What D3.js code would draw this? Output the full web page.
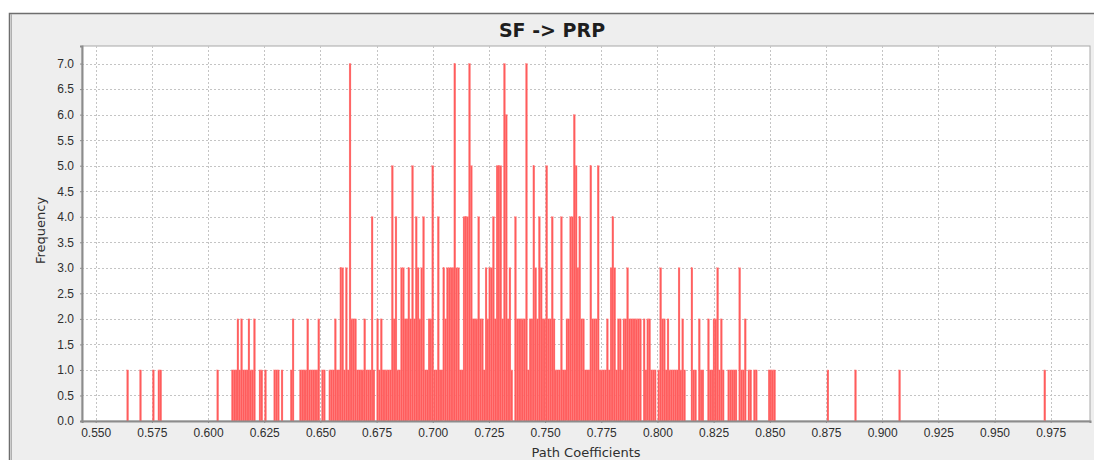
<!DOCTYPE html>
<html>
<head>
<meta charset="utf-8">
<script src="https://cdn.jsdelivr.net/npm/d3@7"></script>
<style>
  body { margin: 0; background: #ffffff; }
  svg { display: block; font-family: "DejaVu Sans", sans-serif; }
  .tick-label { font-size: 12px; fill: #2e2e2e; }
  .axis-title { font-size: 13px; fill: #2e2e2e; }
  .chart-title { font-size: 19px; font-weight: bold; fill: #1e1e1e; }
</style>
</head>
<body>
<div id="chart"></div>
<script>
// SF -> PRP bootstrap histogram (500 bins)
const title = "SF -> PRP";
const xTitle = "Path Coefficients";
const yTitle = "Frequency";

const histMin = 0.5638;
const histMax = 0.9728;

const counts = [
  1,0,0,0,0,0,0,1,0,0,0,0,0,0,1,0,0,1,1,0,0,0,0,0,0,
  0,0,0,0,0,0,0,0,0,0,0,0,0,0,0,0,0,0,0,0,0,0,0,0,1,
  0,0,0,0,0,0,0,1,1,1,2,1,2,1,1,1,2,1,1,2,0,0,1,1,0,
  1,0,0,0,0,1,1,1,0,1,0,0,0,0,1,2,0,0,0,1,1,1,1,2,1,
  1,1,1,1,2,0,1,1,0,0,1,1,1,2,1,1,3,3,1,3,1,7,2,2,2,
  1,1,1,1,2,1,1,1,4,1,0,2,1,2,1,1,1,1,1,5,2,4,1,1,3,
  3,2,2,3,2,5,2,4,3,2,3,4,1,1,2,2,5,1,1,4,1,1,3,2,3,
  3,3,3,7,3,3,1,1,4,4,4,7,5,2,2,2,4,2,2,1,3,2,3,3,4,
  2,5,5,5,2,7,6,2,3,1,0,4,2,2,2,2,2,7,1,2,2,5,3,2,4,
  3,2,2,5,2,2,4,2,1,1,1,4,1,1,2,2,4,4,6,5,3,4,2,2,1,
  1,1,5,2,2,2,5,1,1,1,1,2,1,3,4,3,1,2,2,1,2,2,3,2,2,
  2,2,2,2,2,0,2,1,2,2,1,1,1,0,1,3,2,2,1,2,1,1,1,1,1,
  3,1,2,1,0,0,0,3,1,1,0,2,1,1,0,0,2,1,1,2,2,3,1,2,1,
  0,0,1,1,1,1,1,0,3,1,1,2,0,1,1,0,1,1,0,0,0,0,0,0,1,
  1,1,1,0,0,0,0,0,0,0,0,0,0,0,0,0,0,0,0,0,0,0,0,0,0,
  0,0,0,0,0,0,1,0,0,0,0,0,0,0,0,0,0,0,0,0,0,1,0,0,0,
  0,0,0,0,0,0,0,0,0,0,0,0,0,0,0,0,0,0,0,0,1,0,0,0,0,
  0,0,0,0,0,0,0,0,0,0,0,0,0,0,0,0,0,0,0,0,0,0,0,0,0,
  0,0,0,0,0,0,0,0,0,0,0,0,0,0,0,0,0,0,0,0,0,0,0,0,0,
  0,0,0,0,0,0,0,0,0,0,0,0,0,0,0,0,0,0,0,0,0,0,0,0,1
];

const xTicks = [0.550, 0.575, 0.600, 0.625, 0.650, 0.675, 0.700, 0.725, 0.750,
                0.775, 0.800, 0.825, 0.850, 0.875, 0.900, 0.925, 0.950, 0.975];
const yTicks = [0, 0.5, 1, 1.5, 2, 2.5, 3, 3.5, 4, 4.5, 5, 5.5, 6, 6.5, 7];
const xDomain = [0.5439, 0.9925];
const yDomain = [0, 7.344];

const width = 1094;
const height = 460;
const plot = { left: 82, top: 46, right: 1090, bottom: 421 };

const binWidth = (histMax - histMin) / counts.length;
const bins = counts.map((c, i) => ({ x0: histMin + i * binWidth, x1: histMin + (i + 1) * binWidth, count: c }));

const svg = d3.select("#chart").append("svg")
    .attr("width", width)
    .attr("height", height);

// Panel background and frame
svg.append("rect")
    .attr("x", 9.5).attr("y", 13.5)
    .attr("width", 1100).attr("height", 460)
    .attr("fill", "#eeeeee")
    .attr("stroke", "#6e6e6e")
    .attr("stroke-width", 1.5);

svg.append("line")
    .attr("x1", 11.5).attr("x2", 11.5)
    .attr("y1", 14).attr("y2", height)
    .attr("stroke", "#b0b0b0");

const xScale = d3.scaleLinear().domain(xDomain).range([plot.left, plot.right]);
const yScale = d3.scaleLinear().domain(yDomain).range([plot.bottom, plot.top]);

// Plot area
svg.append("rect")
    .attr("x", plot.left).attr("y", plot.top)
    .attr("width", plot.right - plot.left)
    .attr("height", plot.bottom - plot.top)
    .attr("fill", "#ffffff")
    .attr("stroke", "#a8a8a8");

// Grid lines
const grid = svg.append("g").attr("class", "grid");
grid.selectAll(".vgrid")
    .data(xTicks)
    .enter().append("line")
    .attr("x1", d => Math.round(xScale(d)) + 0.5)
    .attr("x2", d => Math.round(xScale(d)) + 0.5)
    .attr("y1", plot.top).attr("y2", plot.bottom)
    .attr("stroke", "#c4c4c4")
    .attr("stroke-dasharray", "2,2");

grid.selectAll(".hgrid")
    .data(yTicks.slice(1))
    .enter().append("line")
    .attr("x1", plot.left).attr("x2", plot.right)
    .attr("y1", d => Math.round(yScale(d)) + 0.5)
    .attr("y2", d => Math.round(yScale(d)) + 0.5)
    .attr("stroke", "#c4c4c4")
    .attr("stroke-dasharray", "2,2");

// Bars
svg.append("g")
    .selectAll("rect")
    .data(bins.filter(d => d.count > 0))
    .enter().append("rect")
    .attr("x", d => xScale(d.x0))
    .attr("width", d => xScale(d.x1) - xScale(d.x0))
    .attr("y", d => yScale(d.count))
    .attr("height", d => yScale(0) - yScale(d.count))
    .attr("fill", "#ff5c5c")
    .attr("stroke", "#ff7a7a")
    .attr("stroke-width", 0.3);

// Axes
const xAxis = d3.axisBottom(xScale)
    .tickValues(xTicks)
    .tickFormat(d3.format(".3f"))
    .tickSize(2)
    .tickPadding(5);

svg.append("g")
    .attr("transform", `translate(0,${plot.bottom})`)
    .call(xAxis)
    .call(g => g.select(".domain").attr("stroke", "#8c8c8c").attr("stroke-width", 2))
    .call(g => g.selectAll(".tick line").attr("stroke", "#8c8c8c"))
    .call(g => g.selectAll(".tick text").attr("class", "tick-label").attr("font-family", null).attr("font-size", null).attr("fill", null));

const yAxis = d3.axisLeft(yScale)
    .tickValues(yTicks)
    .tickFormat(d3.format(".1f"))
    .tickSize(2)
    .tickPadding(6);

svg.append("g")
    .attr("transform", `translate(${plot.left},0)`)
    .call(yAxis)
    .call(g => g.select(".domain").attr("stroke", "#8c8c8c").attr("stroke-width", 2))
    .call(g => g.selectAll(".tick line").attr("stroke", "#8c8c8c"))
    .call(g => g.selectAll(".tick text").attr("class", "tick-label").attr("font-family", null).attr("font-size", null).attr("fill", null));

// Titles
svg.append("text")
    .attr("class", "chart-title")
    .attr("x", 552).attr("y", 37)
    .attr("text-anchor", "middle")
    .text(title);

svg.append("text")
    .attr("class", "axis-title")
    .attr("x", (plot.left + plot.right) / 2).attr("y", 457)
    .attr("text-anchor", "middle")
    .text(xTitle);

svg.append("text")
    .attr("class", "axis-title")
    .attr("transform", `translate(45,${(plot.top + plot.bottom) / 2 - 3}) rotate(-90)`)
    .attr("text-anchor", "middle")
    .text(yTitle);
</script>
</body>
</html>
